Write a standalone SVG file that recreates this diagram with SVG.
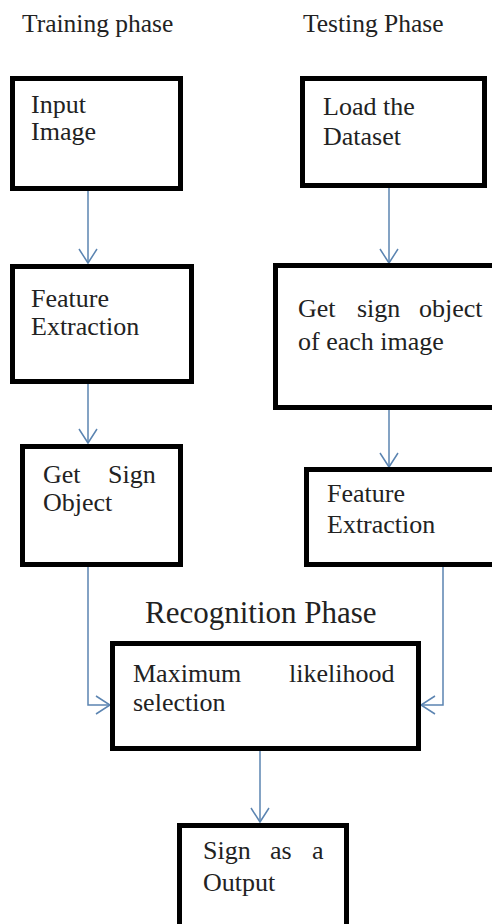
<svg xmlns="http://www.w3.org/2000/svg" width="492" height="924" viewBox="0 0 492 924">
<style>
  .box { fill: #ffffff; stroke: #000000; stroke-width: 5; }
  .conn { fill: none; stroke: #5b84b1; stroke-width: 1.5; }
  .t { fill: #222222; }
</style>
<defs>
  <marker id="arr" markerUnits="userSpaceOnUse" markerWidth="20" markerHeight="22" viewBox="-16 -11 18 22" refX="0" refY="0" orient="auto">
    <path d="M-14,-9 L0,0 L-14,9" fill="none" stroke="#5b84b1" stroke-width="1.5"/>
  </marker>
</defs>
<rect width="492" height="924" fill="#ffffff"/>

<g id="titles">
  <text class="t" x="22" y="32" font-family="Liberation Serif, serif" font-size="25.5">Training phase</text>
  <text class="t" x="303" y="32" font-family="Liberation Serif, serif" font-size="25.5">Testing Phase</text>
  <text class="t" x="145" y="623" font-family="Liberation Serif, serif" font-size="31">Recognition Phase</text>
</g>

<g id="connectors">
  <path class="conn" d="M88,191 V263" marker-end="url(#arr)"/>
  <path class="conn" d="M389,188 V263" marker-end="url(#arr)"/>
  <path class="conn" d="M88,384 V443" marker-end="url(#arr)"/>
  <path class="conn" d="M389,410 V467" marker-end="url(#arr)"/>
  <path class="conn" d="M88,567 V705 H110" marker-end="url(#arr)"/>
  <path class="conn" d="M443,567 V705 H421" marker-end="url(#arr)"/>
  <path class="conn" d="M260,751 V822" marker-end="url(#arr)"/>
</g>

<g id="input-image">
  <rect class="box" x="12.5" y="78.5" width="168" height="110"/>
  <text class="t" x="31" y="113" font-family="Liberation Serif, serif" font-size="26">Input</text>
  <text class="t" x="31" y="140" font-family="Liberation Serif, serif" font-size="26">Image</text>
</g>

<g id="load-dataset">
  <rect class="box" x="302.5" y="78.5" width="182" height="107"/>
  <text class="t" x="323" y="115" font-family="Liberation Serif, serif" font-size="26">Load the</text>
  <text class="t" x="323" y="145" font-family="Liberation Serif, serif" font-size="26">Dataset</text>
</g>

<g id="feature-extraction-train">
  <rect class="box" x="12.5" y="266.5" width="179" height="115"/>
  <text class="t" x="31" y="307" font-family="Liberation Serif, serif" font-size="26">Feature</text>
  <text class="t" x="31" y="335" font-family="Liberation Serif, serif" font-size="26">Extraction</text>
</g>

<g id="get-sign-object-each">
  <rect class="box" x="275.5" y="265.5" width="230" height="142"/>
  <text class="t" y="317" font-family="Liberation Serif, serif" font-size="26"><tspan x="298">Get</tspan><tspan x="357">sign</tspan><tspan x="419">object</tspan></text>
  <text class="t" x="298" y="350" font-family="Liberation Serif, serif" font-size="26">of each image</text>
</g>

<g id="get-sign-object">
  <rect class="box" x="22.5" y="446.5" width="158" height="118"/>
  <text class="t" y="483" font-family="Liberation Serif, serif" font-size="26"><tspan x="43">Get</tspan><tspan x="108">Sign</tspan></text>
  <text class="t" x="43" y="511" font-family="Liberation Serif, serif" font-size="26">Object</text>
</g>

<g id="feature-extraction-test">
  <rect class="box" x="306.5" y="469.5" width="200" height="95"/>
  <text class="t" x="327" y="502" font-family="Liberation Serif, serif" font-size="26">Feature</text>
  <text class="t" x="327" y="533" font-family="Liberation Serif, serif" font-size="26">Extraction</text>
</g>

<g id="max-likelihood">
  <rect class="box" x="112.5" y="643.5" width="306" height="105"/>
  <text class="t" y="682" font-family="Liberation Serif, serif" font-size="26"><tspan x="133">Maximum</tspan><tspan x="289">likelihood</tspan></text>
  <text class="t" x="133" y="711" font-family="Liberation Serif, serif" font-size="26">selection</text>
</g>

<g id="sign-output">
  <rect class="box" x="179.5" y="825.5" width="167" height="110"/>
  <text class="t" y="859" font-family="Liberation Serif, serif" font-size="26"><tspan x="203">Sign</tspan><tspan x="270">as</tspan><tspan x="312">a</tspan></text>
  <text class="t" x="203" y="891" font-family="Liberation Serif, serif" font-size="26">Output</text>
</g>
</svg>
